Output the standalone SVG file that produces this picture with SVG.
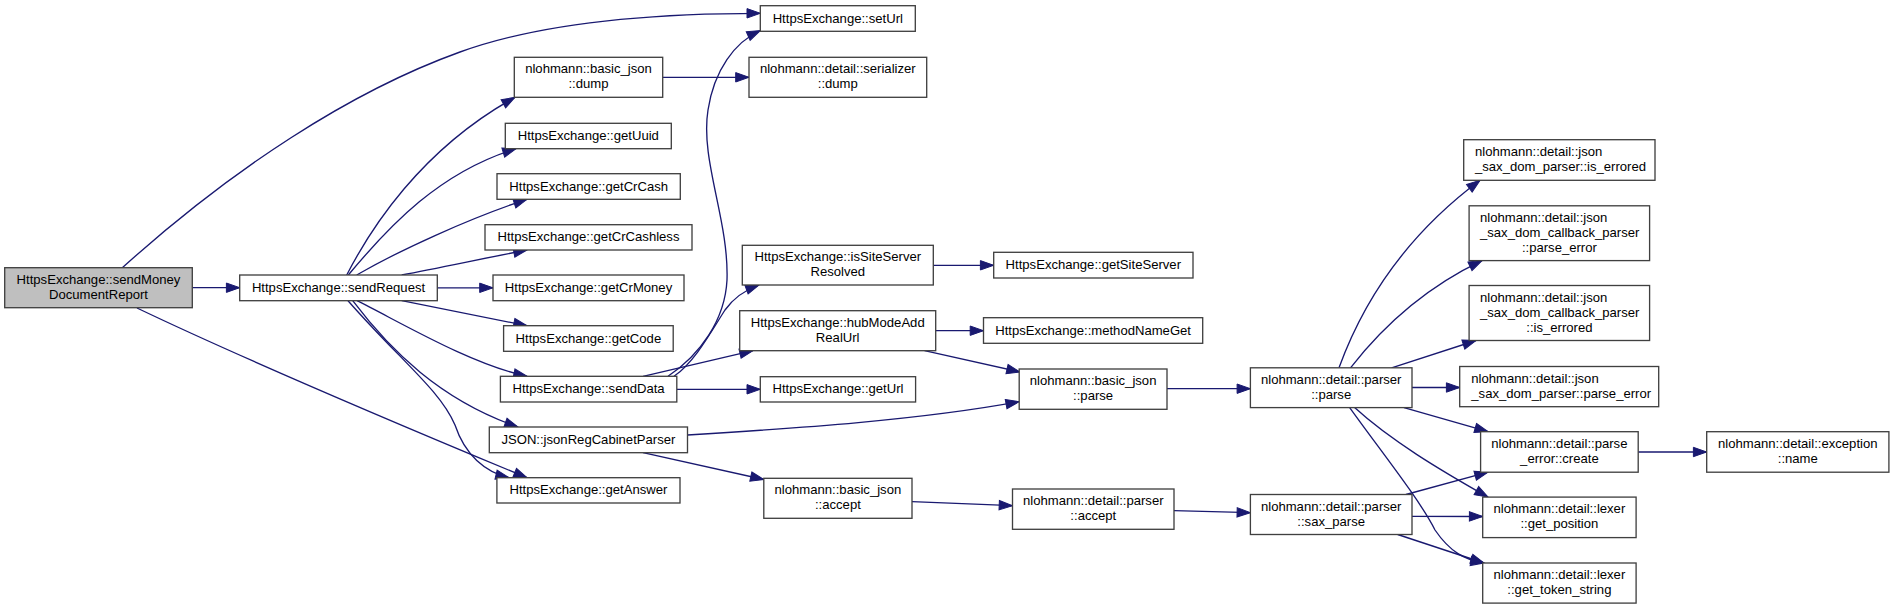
<svg xmlns="http://www.w3.org/2000/svg" width="1893" height="609" viewBox="0 0 1893 609">
<style>
.node rect{fill:#ffffff;stroke:#404040;stroke-width:1.33}
.node.root rect{fill:#bfbfbf}
.node text{font-family:"Liberation Sans",Arial,Helvetica,sans-serif;font-size:13.1px;fill:#000;text-anchor:middle}
.node text.l{text-anchor:start}
.edges path{fill:none;stroke:#191970;stroke-width:1.33;marker-end:url(#arr)}
</style>
<defs>
<marker id="arr" markerUnits="userSpaceOnUse" viewBox="0 0 14 10" markerWidth="14" markerHeight="10" refX="13.3" refY="4.7" orient="auto" overflow="visible">
<path d="M0,0 L13.3,4.7 L0,9.4 z" fill="#191970" stroke="#191970" stroke-width="1"/>
</marker>
</defs>
<rect x="0" y="0" width="1893" height="609" fill="#ffffff"/>
<g class="edges" id="edges">
<path d="M122,268 C232,169 350,91.6 460,52 C540,23 650,13.3 760.3,13.3"/>
<path d="M192.3,287.7 L239.7,287.7"/>
<path d="M137,308 C250,362 400,425 527,477.7"/>
<path d="M346.7,275 C370,230 420,150 515,97.3"/>
<path d="M348.3,275 C390,225 440,172 516,148.7"/>
<path d="M356.7,275 C400,250 470,218 527,199.3"/>
<path d="M401.7,275 C440,268 480,259 527,250"/>
<path d="M437.3,287.8 L493,287.8"/>
<path d="M401.7,300.7 L527,325.7"/>
<path d="M357,300.7 C400,322 470,364 527,376.3"/>
<path d="M352.7,300.7 C390,350 440,400 518,427"/>
<path d="M348,300.7 C400,360 440,390 455,425 C465,455 485,472 509,477.7"/>
<path d="M662.7,77.3 L749,77.3"/>
<path d="M668,376.3 C700,355 725,320 727,280 C729,220 700,160 708,110 C714,70 735,42 760.3,30.5"/>
<path d="M674,376.3 C695,362 712,330 725,310 C735,296 748,289 759,285"/>
<path d="M643,376.3 L753,350.7"/>
<path d="M676.8,389.3 L760.3,389.3"/>
<path d="M687.5,435 C800,428 920,420 1019.2,401.7"/>
<path d="M643,452.7 L763.8,479.5"/>
<path d="M933.3,265.3 L993.7,265.3"/>
<path d="M935.7,330.7 L983.5,330.7"/>
<path d="M924.5,350.7 L1020,372"/>
<path d="M1167,388.7 L1250.4,388.7"/>
<path d="M912,501.7 L1012.5,505.7"/>
<path d="M1174,510.7 L1250.4,512.7"/>
<path d="M1339,367.8 C1360,310 1400,240 1480,180.3"/>
<path d="M1350.5,367.8 C1380,330 1420,290 1482,260.6"/>
<path d="M1391.6,367.8 L1476,340.5"/>
<path d="M1412,387.5 L1459.7,387.5"/>
<path d="M1404,407.6 L1488,431.7"/>
<path d="M1354.6,407.6 C1390,440 1440,470 1488,497.1"/>
<path d="M1349.7,407.6 C1380,450 1420,500 1435,530 C1450,552 1465,560 1484,563"/>
<path d="M1406,494.5 L1488,472.2"/>
<path d="M1412,516.3 L1482.7,516.5"/>
<path d="M1397.7,534.5 L1484,563"/>
<path d="M1638.2,452 L1706.7,452"/>
</g>
<g class="node root" id="sendMoneyDocumentReport"><rect x="4.7" y="267.7" width="187.6" height="40"/><text x="98.5" y="283.7">HttpsExchange::sendMoney</text><text x="98.5" y="298.7">DocumentReport</text></g>
<g class="node" id="sendRequest"><rect x="239.7" y="275" width="197.6" height="25.7"/><text x="338.5" y="291.9">HttpsExchange::sendRequest</text></g>
<g class="node" id="setUrl"><rect x="760.3" y="5.7" width="155" height="25.6"/><text x="837.8" y="22.5">HttpsExchange::setUrl</text></g>
<g class="node" id="basicJsonDump"><rect x="514.3" y="57.3" width="148.4" height="40"/><text x="588.5" y="73.3">nlohmann::basic_json</text><text x="588.5" y="88.3">::dump</text></g>
<g class="node" id="serializerDump"><rect x="749" y="57.3" width="177.7" height="40"/><text x="837.8" y="73.3">nlohmann::detail::serializer</text><text x="837.8" y="88.3">::dump</text></g>
<g class="node" id="getUuid"><rect x="505.3" y="123.3" width="166" height="25.4"/><text x="588.3" y="140">HttpsExchange::getUuid</text></g>
<g class="node" id="getCrCash"><rect x="497" y="173.7" width="183.3" height="25.6"/><text x="588.7" y="190.5">HttpsExchange::getCrCash</text></g>
<g class="node" id="getCrCashless"><rect x="485" y="224.7" width="207" height="25.3"/><text x="588.5" y="241.3">HttpsExchange::getCrCashless</text></g>
<g class="node" id="getCrMoney"><rect x="493" y="275" width="191" height="25.7"/><text x="588.5" y="291.9">HttpsExchange::getCrMoney</text></g>
<g class="node" id="getCode"><rect x="503.6" y="325.7" width="169.6" height="25.6"/><text x="588.4" y="342.5">HttpsExchange::getCode</text></g>
<g class="node" id="sendData"><rect x="500.4" y="376.3" width="176.4" height="25.7"/><text x="588.6" y="393.2">HttpsExchange::sendData</text></g>
<g class="node" id="jsonRegCabinetParser"><rect x="489.3" y="427" width="198.2" height="25.7"/><text x="588.4" y="443.8">JSON::jsonRegCabinetParser</text></g>
<g class="node" id="getAnswer"><rect x="496.9" y="477.7" width="183.1" height="25.3"/><text x="588.4" y="494.3">HttpsExchange::getAnswer</text></g>
<g class="node" id="isSiteServerResolved"><rect x="742.3" y="245.3" width="191" height="39.7"/><text x="837.8" y="261.2">HttpsExchange::isSiteServer</text><text x="837.8" y="276.2">Resolved</text></g>
<g class="node" id="getSiteServer"><rect x="993.7" y="252.3" width="199.3" height="25.7"/><text x="1093.3" y="269.2">HttpsExchange::getSiteServer</text></g>
<g class="node" id="hubModeAddRealUrl"><rect x="739.7" y="310.7" width="196" height="40"/><text x="837.7" y="326.7">HttpsExchange::hubModeAdd</text><text x="837.7" y="341.7">RealUrl</text></g>
<g class="node" id="methodNameGet"><rect x="983.5" y="317.7" width="219.2" height="25.6"/><text x="1093.1" y="334.5">HttpsExchange::methodNameGet</text></g>
<g class="node" id="getUrl"><rect x="760.3" y="376.7" width="155.3" height="25.3"/><text x="838" y="393.3">HttpsExchange::getUrl</text></g>
<g class="node" id="basicJsonParse"><rect x="1019.2" y="369" width="147.8" height="40.3"/><text x="1093.1" y="385.2">nlohmann::basic_json</text><text x="1093.1" y="400.2">::parse</text></g>
<g class="node" id="basicJsonAccept"><rect x="763.8" y="478.3" width="148.2" height="40"/><text x="837.9" y="494.3">nlohmann::basic_json</text><text x="837.9" y="509.3">::accept</text></g>
<g class="node" id="parserParse"><rect x="1250.4" y="367.8" width="161.6" height="39.8"/><text x="1331.2" y="383.7">nlohmann::detail::parser</text><text x="1331.2" y="398.7">::parse</text></g>
<g class="node" id="parserAccept"><rect x="1012.5" y="489" width="161.5" height="40.3"/><text x="1093.3" y="505.2">nlohmann::detail::parser</text><text x="1093.3" y="520.2">::accept</text></g>
<g class="node" id="parserSaxParse"><rect x="1250.4" y="494.5" width="161.6" height="40"/><text x="1331.2" y="510.5">nlohmann::detail::parser</text><text x="1331.2" y="525.5">::sax_parse</text></g>
<g class="node" id="saxDomParserIsErrored"><rect x="1463.7" y="139.7" width="191.3" height="40.6"/><text class="l" x="1475" y="156">nlohmann::detail::json</text><text class="l" x="1475" y="171">_sax_dom_parser::is_errored</text></g>
<g class="node" id="saxDomCallbackParserParseError"><rect x="1469.1" y="205.8" width="180.5" height="54.8"/><text class="l" x="1480" y="222.2">nlohmann::detail::json</text><text class="l" x="1480" y="237.2">_sax_dom_callback_parser</text><text x="1559.4" y="251.7">::parse_error</text></g>
<g class="node" id="saxDomCallbackParserIsErrored"><rect x="1469.1" y="285.5" width="180.5" height="55"/><text class="l" x="1480" y="302">nlohmann::detail::json</text><text class="l" x="1480" y="317">_sax_dom_callback_parser</text><text x="1559.4" y="331.5">::is_errored</text></g>
<g class="node" id="saxDomParserParseError"><rect x="1459.7" y="366.5" width="199" height="40.2"/><text class="l" x="1471.3" y="382.6">nlohmann::detail::json</text><text class="l" x="1471.3" y="397.6">_sax_dom_parser::parse_error</text></g>
<g class="node" id="parseErrorCreate"><rect x="1480.6" y="431.7" width="157.6" height="40.5"/><text x="1559.4" y="448">nlohmann::detail::parse</text><text x="1559.4" y="463">_error::create</text></g>
<g class="node" id="exceptionName"><rect x="1706.7" y="431.7" width="182.2" height="40.5"/><text x="1797.8" y="448">nlohmann::detail::exception</text><text x="1797.8" y="463">::name</text></g>
<g class="node" id="lexerGetPosition"><rect x="1482.7" y="497.1" width="153.4" height="40.5"/><text x="1559.4" y="513.3">nlohmann::detail::lexer</text><text x="1559.4" y="528.3">::get_position</text></g>
<g class="node" id="lexerGetTokenString"><rect x="1482.7" y="563" width="153.4" height="40.1"/><text x="1559.4" y="579">nlohmann::detail::lexer</text><text x="1559.4" y="594">::get_token_string</text></g>
</svg>
